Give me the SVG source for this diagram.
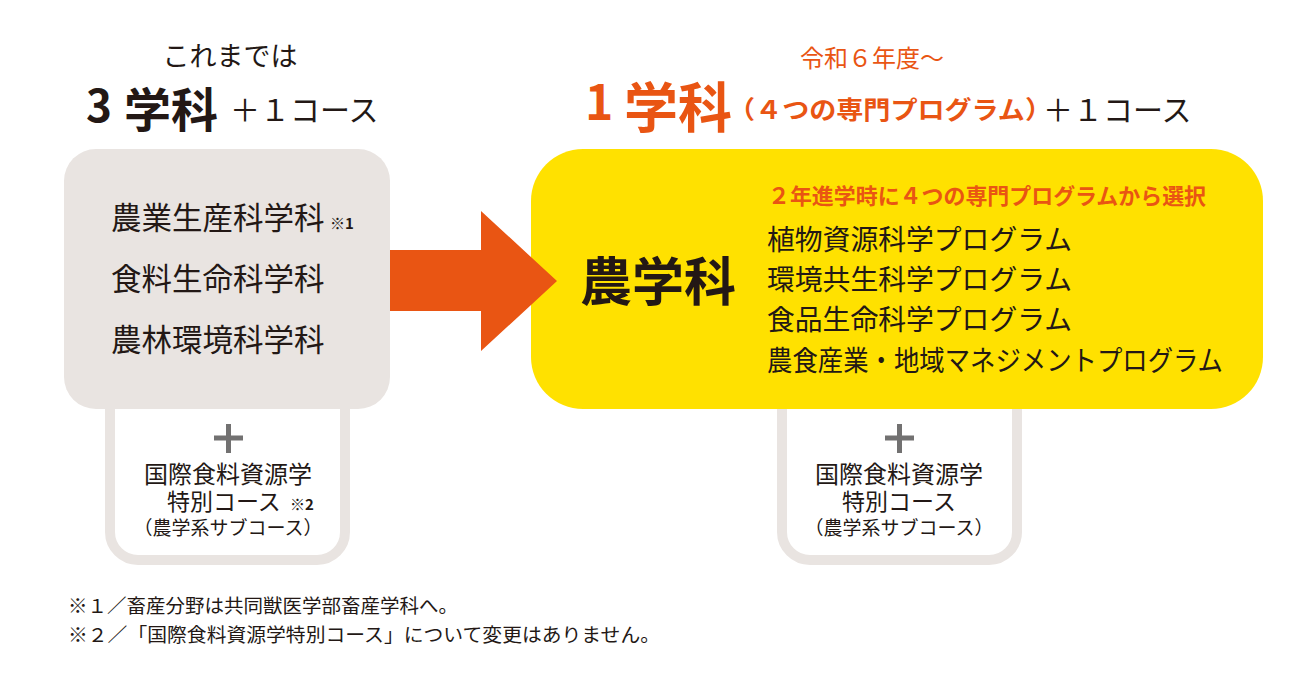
<svg xmlns="http://www.w3.org/2000/svg" width="1310" height="673" viewBox="0 0 1310 673">
<style>
text{font-family:"Noto Sans CJK JP","Noto Sans CJK SC",sans-serif;fill:#231815}
.or{fill:#e95513}
.b{font-weight:bold}
.sub{fill:#ffffff;stroke:#e9e4e1;stroke-width:10}
.plus{fill:#727171}
</style>
<rect width="1310" height="673" fill="#ffffff"/>
<g id="header-left">
<text x="230" y="66" font-size="27" text-anchor="middle">これまでは</text>
<text y="122"><tspan x="86" font-size="44" class="b">3</tspan><tspan x="124" y="127" font-size="47" class="b">学科</tspan><tspan x="230" y="121" font-size="30">＋１コース</tspan></text>
</g>
<g id="header-right">
<text x="872" y="67" font-size="24" text-anchor="middle" class="or">令和６年度〜</text>
<text y="120"><tspan x="585" font-size="48" class="b or">1</tspan><tspan x="624" y="128" font-size="54" class="b or">学科</tspan></text>
<text x="728" y="119" font-size="25" class="b or" textLength="324" lengthAdjust="spacingAndGlyphs">（４つの専門プログラム）</text>
<text x="1043" y="121" font-size="30">＋１コース</text>
</g>
<g id="sub-left">
<rect class="sub" x="110" y="380" width="235" height="180" rx="28"/>
<rect class="plus" x="214" y="435.5" width="29" height="5"/>
<rect class="plus" x="226" y="424" width="5" height="29"/>
<text x="228" y="483" font-size="24" text-anchor="middle">国際食料資源学</text>
<text y="510"><tspan x="167" font-size="23">特別コース</tspan><tspan x="290" font-size="15" class="b">※2</tspan></text>
<text x="228" y="535" font-size="19" text-anchor="middle">（農学系サブコース）</text>
</g>
<g id="sub-right">
<rect class="sub" x="782" y="380" width="235" height="180" rx="28"/>
<rect class="plus" x="885" y="435.5" width="29" height="5"/>
<rect class="plus" x="897" y="424" width="5" height="29"/>
<text x="899" y="483" font-size="24" text-anchor="middle">国際食料資源学</text>
<text x="899" y="510" font-size="23" text-anchor="middle">特別コース</text>
<text x="899" y="535" font-size="19" text-anchor="middle">（農学系サブコース）</text>
</g>
<g id="old-departments">
<rect x="64" y="149" width="326" height="260" rx="32" fill="#e9e4e1"/>
<text y="229"><tspan x="111" font-size="30.5">農業生産科学科</tspan><tspan x="330" font-size="15" class="b">※1</tspan></text>
<text x="111" y="290" font-size="30.5">食料生命科学科</text>
<text x="111" y="351" font-size="30.5">農林環境科学科</text>
</g>
<g id="new-department">
<rect x="531" y="149" width="732" height="260" rx="52" fill="#ffe100"/>
<text x="580" y="301" font-size="52" class="b">農学科</text>
<text x="768" y="204" font-size="22" class="b or" textLength="438" lengthAdjust="spacingAndGlyphs">２年進学時に４つの専門プログラムから選択</text>
<text x="767" y="250" font-size="28" textLength="305" lengthAdjust="spacingAndGlyphs">植物資源科学プログラム</text>
<text x="767" y="290" font-size="28" textLength="305" lengthAdjust="spacingAndGlyphs">環境共生科学プログラム</text>
<text x="767" y="330" font-size="28" textLength="305" lengthAdjust="spacingAndGlyphs">食品生命科学プログラム</text>
<text x="767" y="371" font-size="28" textLength="456" lengthAdjust="spacingAndGlyphs">農食産業・地域マネジメントプログラム</text>
</g>
<g id="connectors">
<polygon points="390,250 481,250 481,211 557,281 481,351 481,311 390,311" fill="#e95513"/>
</g>
<g id="footnotes">
<text x="68" y="613" font-size="19" textLength="390" lengthAdjust="spacingAndGlyphs">※１／畜産分野は共同獣医学部畜産学科へ。</text>
<text x="68" y="642" font-size="19" textLength="592" lengthAdjust="spacingAndGlyphs">※２／「国際食料資源学特別コース」について変更はありません。</text>
</g>
</svg>
